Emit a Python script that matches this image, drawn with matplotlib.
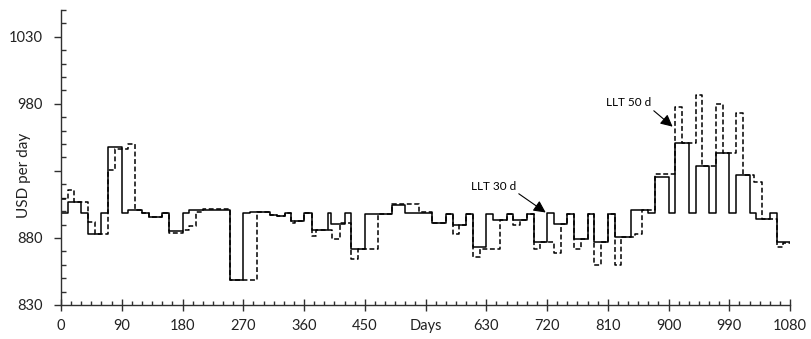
import matplotlib.pyplot as plt
from matplotlib.ticker import MultipleLocator, FixedLocator

plt.rcParams['font.family'] = ['Lato', 'DejaVu Sans']

# solid line: day where each step starts, and its level (USD per day)
solid_days = [0, 10, 30, 40, 60, 70, 90, 100, 120, 130, 150, 160, 180, 190,
              250, 270, 280, 310, 320, 332, 340, 360, 372, 395, 400, 420, 430,
              450, 490, 510, 550, 570, 580, 600, 610, 630, 640, 660, 670, 690,
              700, 720, 730, 750, 760, 780, 790, 810, 820, 845, 870, 880, 900,
              910, 930, 940, 960, 970, 990, 1000, 1020, 1030, 1050, 1060, 1080]
solid_vals = [898.5, 906.5, 898.5, 883, 898.5, 947.5, 898.5, 901, 898.5, 895.5,
              898.5, 885.5, 898.5, 901, 849, 898.5, 899.5, 897, 896, 898.5, 893,
              898.5, 886, 898.5, 890.5, 898.5, 871.7, 898, 904.7, 898.5, 891,
              898, 889.7, 898, 873.5, 898, 893.5, 898, 893.5, 898, 876.7, 898.5,
              890.5, 898, 879, 898, 877, 898, 880.5, 900.5, 898.7, 925.5, 898.7,
              950.5, 898.7, 933.5, 898.7, 943.7, 898.7, 926.7, 898.7, 894, 898.7,
              876.7, 876.7]

# dashed line
dashed_days = [0, 10, 20, 40, 50, 70, 80, 100, 110, 120, 130, 150, 160, 180,
               190, 200, 210, 250, 290, 310, 320, 332, 340, 346, 360, 372, 378,
               402, 414, 430, 440, 470, 490, 530, 550, 570, 580, 590, 600, 610,
               620, 650, 660, 670, 680, 690, 700, 710, 720, 730, 740, 750, 760,
               770, 780, 790, 800, 810, 820, 830, 850, 860, 880, 910, 920, 940,
               950, 970, 980, 1000, 1010, 1027, 1038, 1060, 1070, 1080]
dashed_vals = [909, 916, 906.5, 891.7, 883, 931, 946.7, 950, 901, 898.5, 895.5,
               898.5, 884, 886, 889, 899.5, 901.7, 849, 899, 897, 896, 898.5,
               891, 893, 898.5, 881.7, 886, 879, 891, 864.5, 871.7, 898, 905,
               899, 891, 898, 883, 889.7, 898, 865.5, 872, 893.5, 898, 889.7,
               893.5, 898, 871.7, 876.7, 876.7, 868.5, 890.5, 898, 871.7, 879,
               898, 859.5, 877, 898, 859.5, 880.5, 883, 900.5, 927.5, 978, 950.5,
               986.7, 933.5, 980, 943.7, 973, 926.7, 922, 894, 873, 876, 876]

x_ticks = [0, 90, 180, 270, 360, 450, 540, 630, 720, 810, 900, 990, 1080]
x_labels = ['0', '90', '180', '270', '360', '450', 'Days', '630', '720', '810',
            '900', '990', '1080']
y_ticks = [830, 880, 930, 980, 1030]
y_labels = ['830', '880', '', '980', '1030']

fig = plt.figure(figsize=(8.11, 3.39), dpi=100)
ax = fig.add_axes([0.0752, 0.1003, 0.899, 0.8702])

ax.step(solid_days, solid_vals, where='post', color='black', lw=1.1)
ax.step(dashed_days, dashed_vals, where='post', color='black', lw=1.1,
        linestyle=(0, (3.2, 1.7)))

ax.set_xlim(0, 1080)
ax.set_ylim(830, 1050)
for s in ['top', 'right']:
    ax.spines[s].set_visible(False)
for s in ['left', 'bottom']:
    ax.spines[s].set_linewidth(1.0)
    ax.spines[s].set_color('#303030')

ax.xaxis.set_major_locator(FixedLocator(x_ticks))
ax.set_xticklabels(x_labels)
ax.xaxis.set_minor_locator(MultipleLocator(15))
ax.yaxis.set_major_locator(FixedLocator(y_ticks))
ax.set_yticklabels(y_labels)
ax.yaxis.set_minor_locator(MultipleLocator(10))

ax.tick_params(axis='x', which='major', direction='inout', length=8, width=1,
               pad=6, labelsize=10.5, color='#303030', labelcolor='#222222')
ax.tick_params(axis='x', which='minor', direction='in', length=3.2, width=1,
               color='#303030')
ax.tick_params(axis='y', which='major', direction='out', length=5, width=1,
               pad=8, labelsize=10.5, color='#303030', labelcolor='#222222')
ax.tick_params(axis='y', which='minor', direction='in', length=3.6, width=1,
               color='#303030')

ax.set_ylabel('USD per day', fontsize=11, color='#222222')
ax.yaxis.set_label_coords(-0.041, 0.44)

ax.annotate('LLT 30 d', xy=(718, 899), xytext=(607, 918.5), fontsize=8.5,
            va='center', ha='left',
            arrowprops=dict(arrowstyle='-|>', color='black', lw=0.8,
                            mutation_scale=18, shrinkA=0, shrinkB=0,
                            relpos=(1.0, 0.0)))
ax.annotate('LLT 50 d', xy=(906, 963), xytext=(807, 980.7), fontsize=8.5,
            va='center', ha='left',
            arrowprops=dict(arrowstyle='-|>', color='black', lw=0.8,
                            mutation_scale=18, shrinkA=0, shrinkB=0,
                            relpos=(1.0, 0.0)))

fig.savefig('out.png', dpi=100)
